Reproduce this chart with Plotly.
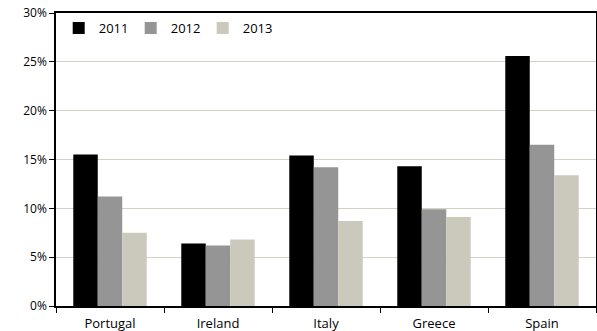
import plotly.graph_objects as go

countries = ["Portugal", "Ireland", "Italy", "Greece", "Spain"]
years = ["2011", "2012", "2013"]
v2011 = [15.5, 6.4, 15.4, 14.3, 25.6]
v2012 = [11.2, 6.2, 14.2, 9.9, 16.5]
v2013 = [7.5, 6.8, 8.7, 9.1, 13.4]
colors = ["#000000", "#959595", "#cbc9bb"]
yticks = [0, 5, 10, 15, 20, 25, 30]
yticklabels = [f"{t}%" for t in yticks]

fig = go.Figure()
for name, vals, c in zip(years, [v2011, v2012, v2013], colors):
    fig.add_trace(go.Bar(x=countries, y=vals, name=name, marker=dict(color=c, line=dict(width=0))))

fig.update_layout(
    width=597, height=331,
    margin=dict(l=56, r=1, t=13, b=25),
    barmode="group", bargap=0.32, bargroupgap=0,
    plot_bgcolor="white", paper_bgcolor="white",
    font=dict(family="Open Sans, Liberation Sans, sans-serif", size=12, color="#000"),
    legend=dict(orientation="h", x=0.005, y=1.0, xanchor="left", yanchor="top",
                bgcolor="rgba(0,0,0,0)", font=dict(size=13), itemwidth=30,
                traceorder="normal", entrywidthmode="pixels", entrywidth=27),
    xaxis=dict(showline=True, linecolor="#000", linewidth=1.5, mirror=True,
               ticks="outside", tickson="boundaries", ticklen=5, tickcolor="#000",
               tickfont=dict(size=13), showgrid=False, ticklabelstandoff=5,
               automargin=False),
    yaxis=dict(range=[0, 30], tickvals=yticks, ticktext=yticklabels,
               showline=True, linecolor="#000", linewidth=1.5, mirror=True,
               ticks="outside", ticklen=5, tickcolor="#000",
               showgrid=True, gridcolor="#d2d2c4", gridwidth=1.2,
               tickfont=dict(size=12), zeroline=False, automargin=False),
)
fig.write_html("out.html")
